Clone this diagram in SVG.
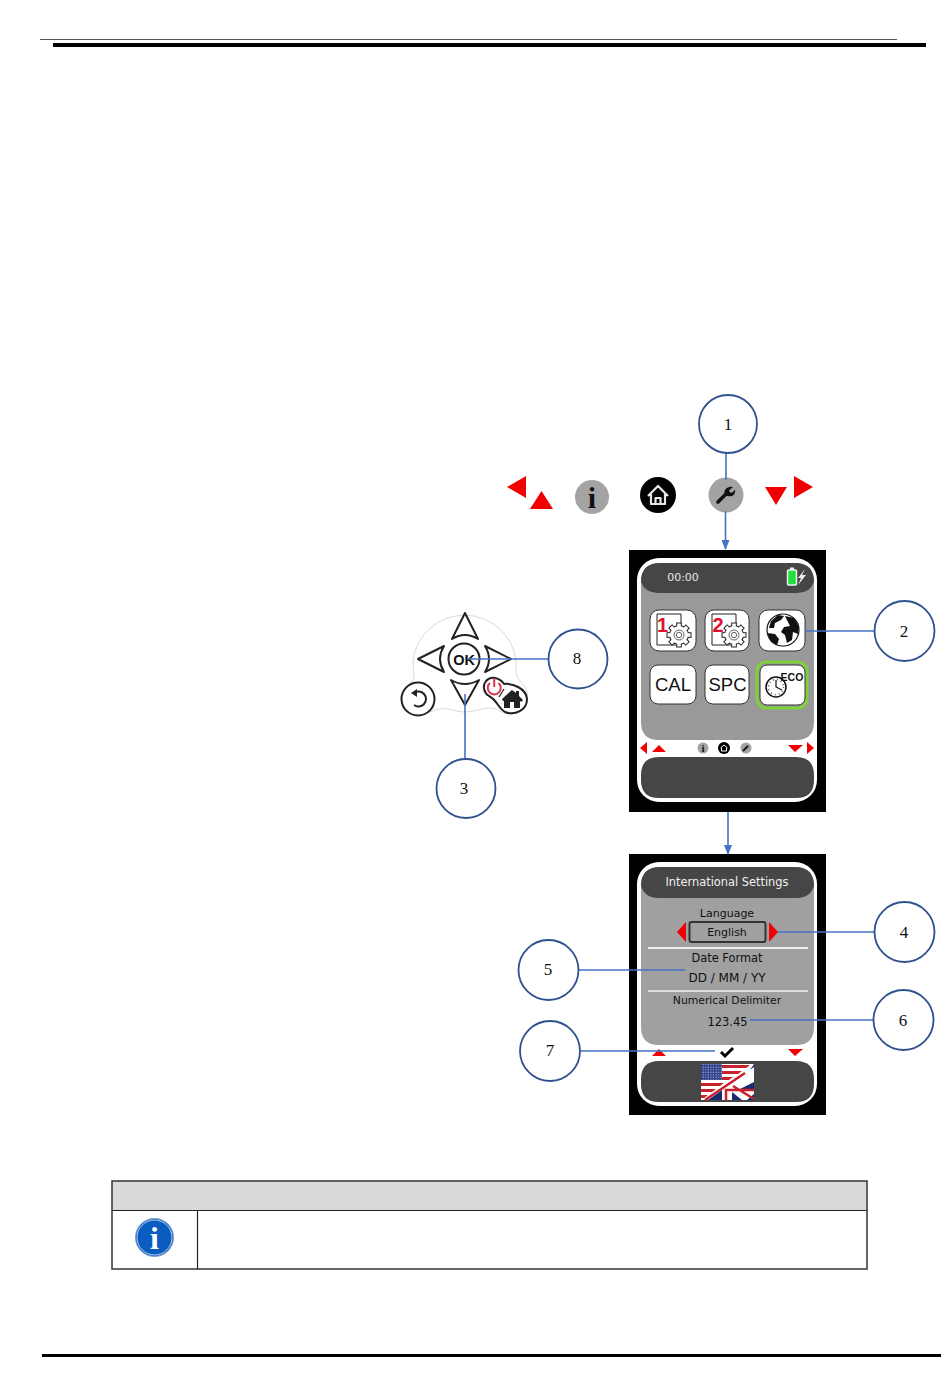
<svg xmlns="http://www.w3.org/2000/svg" xmlns:xlink="http://www.w3.org/1999/xlink" width="950" height="1392" viewBox="0 0 950 1392">
<style>
.callout{fill:#fff;stroke:#2f528f;stroke-width:1.8}
.num{font-family:"Liberation Serif",serif;font-size:17px;fill:#111;text-anchor:middle}
.conn{fill:none;stroke:#4472c4;stroke-width:1.6}
.red{fill:#f00000}
.ui{font-family:"DejaVu Sans",sans-serif;font-size:11px;fill:#111;text-anchor:middle}
.tile{fill:#fff;stroke:#333;stroke-width:1}
.big{font-family:"Liberation Sans",sans-serif;font-size:18.500px;fill:#111;text-anchor:middle}
.kp{fill:#fff;stroke:#222;stroke-width:2;stroke-linejoin:round}
</style>
<defs>
<marker id="arrow" markerWidth="10" markerHeight="8" refX="9" refY="4" orient="auto" markerUnits="userSpaceOnUse"><path d="M0 0L10 4L0 8Z" fill="#4472c4"/></marker>
<pattern id="stars" width="2.600" height="2.600" patternUnits="userSpaceOnUse"><rect width="2.600" height="2.600" fill="#2a3a88"/><rect x="0.500" y="0.500" width="1.100" height="1.100" fill="#cfd6ea"/></pattern>
<path id="teeth-o" d="M-2.800-12.500H2.800V-7H-2.800Z"/>
<path id="teeth-i" d="M-1.800-11.500H1.800V-7H-1.800Z"/>
<g id="gear">
<g fill="#222">
<use xlink:href="#teeth-o" href="#teeth-o"/>
<use xlink:href="#teeth-o" href="#teeth-o" transform="rotate(45)"/>
<use xlink:href="#teeth-o" href="#teeth-o" transform="rotate(90)"/>
<use xlink:href="#teeth-o" href="#teeth-o" transform="rotate(135)"/>
<use xlink:href="#teeth-o" href="#teeth-o" transform="rotate(180)"/>
<use xlink:href="#teeth-o" href="#teeth-o" transform="rotate(225)"/>
<use xlink:href="#teeth-o" href="#teeth-o" transform="rotate(270)"/>
<use xlink:href="#teeth-o" href="#teeth-o" transform="rotate(315)"/>
<circle r="10"/>
</g>
<g fill="#fff">
<use xlink:href="#teeth-i" href="#teeth-i"/>
<use xlink:href="#teeth-i" href="#teeth-i" transform="rotate(45)"/>
<use xlink:href="#teeth-i" href="#teeth-i" transform="rotate(90)"/>
<use xlink:href="#teeth-i" href="#teeth-i" transform="rotate(135)"/>
<use xlink:href="#teeth-i" href="#teeth-i" transform="rotate(180)"/>
<use xlink:href="#teeth-i" href="#teeth-i" transform="rotate(225)"/>
<use xlink:href="#teeth-i" href="#teeth-i" transform="rotate(270)"/>
<use xlink:href="#teeth-i" href="#teeth-i" transform="rotate(315)"/>
<circle r="9"/>
</g>
<circle r="5" fill="none" stroke="#666" stroke-width="1"/>
<circle r="2.700" fill="none" stroke="#666" stroke-width="1"/>
</g>
<g id="wrench">
<path d="M-7 7L1-1" stroke="#111" stroke-width="3.600" stroke-linecap="round"/>
<path d="M0 0C-2-5 2-9 8-8L4-4.500L5-2.500L7.500-2.500L10-5.500C11 1 5 3 0 0Z" fill="#111"/>
</g>
<g id="house">
<path d="M-10 1L0-9L10 1M-7-1V9H7V-1M-2.500 9V3H2.500V9" fill="none" stroke="#e8e8e8" stroke-width="2.200" stroke-linejoin="round"/>
</g>
</defs>
<rect width="950" height="1392" fill="#fff"/>
<g id="page-rules">
<rect x="40" y="39" width="857" height="1" fill="#555"/>
<rect x="53" y="43" width="873" height="4" fill="#000"/>
<rect x="42" y="1354" width="899" height="3" fill="#000"/>
</g>

<g id="icon-row">
<path class="red" d="M507 487L526 476V498ZM530 509H553L541.500 491ZM765 487H787L776 505ZM794 476L813 487L794 498Z"/>
<circle cx="592" cy="497" r="17" fill="#a3a3a3"/>
<text x="592" y="508" font-family="Liberation Serif,serif" font-weight="700" font-size="30" text-anchor="middle" fill="#111">i</text>
<circle cx="658" cy="495" r="18" fill="#000"/>
<use xlink:href="#house" href="#house" x="658" y="495"/>
<circle cx="726" cy="495" r="17.500" fill="#a3a3a3"/>
<use xlink:href="#wrench" href="#wrench" x="725" y="495"/>
</g>

<g id="screen-main">
<rect x="629" y="550" width="197" height="262" fill="#000"/>
<rect x="637" y="558" width="180" height="244" rx="22" fill="#fff"/>
<path d="M641 582Q641 563 660 563H795Q814 563 814 582V722Q814 740 796 740H659Q641 740 641 722Z" fill="#999"/>
<path d="M641 582Q641 563 660 563H795Q814 563 814 582Q810 593 797 593H658Q645 593 641 582Z" fill="#464646"/>
<text x="683" y="581" font-family="DejaVu Sans,sans-serif" font-size="11" fill="#e6e6e6" text-anchor="middle">00:00</text>
<rect x="787.500" y="570" width="9" height="15" rx="1" fill="#22e040" stroke="#eee" stroke-width="1.500"/>
<rect x="790" y="567.500" width="4" height="2.500" fill="#eee"/>
<path d="M805 569L798 578H801L798 585L806 575H802Z" fill="#eee"/>
<g id="tile-1">
<rect class="tile" x="650" y="610" width="46" height="41" rx="9"/>
<path d="M657 614V645H676M657 614H681V624" fill="none" stroke="#222"/>
<use xlink:href="#gear" href="#gear" x="679" y="635"/>
<text x="662.500" y="632" font-family="Liberation Sans,sans-serif" font-weight="700" font-size="20" fill="#e0102c" text-anchor="middle">1</text>
</g>
<g id="tile-2">
<rect class="tile" x="705" y="610" width="44" height="41" rx="9"/>
<path d="M712 614V645H731M712 614H736V624" fill="none" stroke="#222"/>
<use xlink:href="#gear" href="#gear" x="734" y="635"/>
<text x="718" y="632" font-family="Liberation Sans,sans-serif" font-weight="700" font-size="20" fill="#e0102c" text-anchor="middle">2</text>
</g>
<g id="tile-globe">
<rect class="tile" x="759" y="610" width="46" height="41" rx="9"/>
<circle cx="783" cy="630" r="16" fill="#fff" stroke="#111" stroke-width="1.200"/>
<path d="M771 621L778 615L784 616L781 620L775 623L774 628L769 628ZM785 616L794 618L799 627L798 634L793 632L792 640L787 643L785 635L781 632L784 627L790 626ZM767 633L775 634L779 639L777 645L771 642Z" fill="#111"/>
</g>
<g id="tile-cal">
<rect class="tile" x="650" y="665" width="46" height="39" rx="8"/>
<text class="big" x="673" y="691">CAL</text>
</g>
<g id="tile-spc">
<rect class="tile" x="705" y="665" width="44" height="39" rx="8"/>
<text class="big" x="727.500" y="691">SPC</text>
</g>
<g id="tile-eco">
<rect x="757" y="662" width="50" height="46" rx="9" fill="none" stroke="#7ed13a" stroke-width="3"/>
<rect class="tile" x="760" y="665" width="45" height="40" rx="7"/>
<circle cx="776" cy="687" r="10" fill="#fff" stroke="#111" stroke-width="1.500"/>
<circle cx="776" cy="687" r="7.500" fill="none" stroke="#555" stroke-width="1.500" stroke-dasharray="1 3"/>
<path d="M776 680V687L782 690" fill="none" stroke="#111" stroke-width="1.200"/>
<text x="792" y="681" font-family="Liberation Sans,sans-serif" font-weight="700" font-size="10.500" fill="#111" text-anchor="middle">ECO</text>
</g>
<path class="red" d="M640 748L647 742V754ZM652 752H666L659 745ZM788 745H803L795 752ZM807 742L814 748L807 754Z"/>
<circle cx="703" cy="748" r="5.500" fill="#a3a3a3"/>
<text x="703" y="752" font-family="Liberation Serif,serif" font-weight="700" font-size="11" text-anchor="middle" fill="#111">i</text>
<circle cx="724" cy="748" r="6" fill="#000"/>
<path d="M720.500 748L724 745L727.500 748M721.500 748V751H726.500V748" fill="none" stroke="#fff" stroke-width="1"/>
<circle cx="746" cy="748" r="5.500" fill="#a3a3a3"/>
<path d="M743 751L748 746" stroke="#111" stroke-width="1.800"/>
<path d="M641 775Q641 757 659 757H796Q814 757 814 775V780Q814 798 796 798H659Q641 798 641 780Z" fill="#464646"/>
</g>

<g id="screen-settings">
<rect x="629" y="854" width="197" height="261" fill="#000"/>
<rect x="637" y="862" width="180" height="244" rx="22" fill="#fff"/>
<path d="M641 886Q641 867 660 867H795Q814 867 814 886V1027Q814 1045 796 1045H659Q641 1045 641 1027Z" fill="#a0a0a0"/>
<path d="M641 886Q641 867 660 867H795Q814 867 814 886Q810 898 797 898H658Q645 898 641 886Z" fill="#464646"/>
<text class="ui" x="727" y="886" style="fill:#f0f0f0;font-size:11.400px">International Settings</text>
<text class="ui" x="727" y="917">Language</text>
<rect x="689.500" y="922" width="76" height="20" rx="2" fill="#a0a0a0" stroke="#333" stroke-width="2"/>
<text class="ui" x="727" y="936">English</text>
<path class="red" d="M677 932L686 922V942ZM778 932L769 922V942Z"/>
<rect x="648" y="947" width="160" height="2" fill="#eee"/>
<text class="ui" x="727" y="962" style="font-size:11.400px">Date Format</text>
<text class="ui" x="727" y="982" style="font-size:12px">DD / MM / YY</text>
<rect x="648" y="990" width="160" height="2" fill="#ddd"/>
<text class="ui" x="727" y="1004" style="font-size:10.800px">Numerical Delimiter</text>
<text class="ui" x="727.500" y="1026" style="font-size:11.500px">123.45</text>
<path class="red" d="M652 1056H666L659 1049ZM788 1049H803L795 1056Z"/>
<path d="M721 1052L725 1056L733 1048" fill="none" stroke="#000" stroke-width="3"/>
<path d="M641 1079Q641 1061 659 1061H796Q814 1061 814 1079V1084Q814 1102 796 1102H659Q641 1102 641 1084Z" fill="#464646"/>
<g id="flag">
<rect x="701" y="1064" width="53" height="36" fill="#fff"/>
<path fill="#c8202c" d="M722 1065H750L746 1068H722ZM722 1071H742L738 1074H722ZM722 1077H733L729 1080H722ZM701 1083H724L720 1086H701ZM701 1089H716L712 1092H701ZM701 1095H708L704 1098H701Z"/>
<rect x="701" y="1064" width="21" height="16" fill="url(#stars)"/>
<path fill="#1c2a72" d="M708 1100L722 1090V1100ZM732 1100V1092L742 1100ZM740 1089L754 1082V1089ZM747 1100L754 1094V1100ZM754 1064V1067L750 1070Z"/>
<path d="M726 1100V1090H754M705 1100L745 1073M754 1099L733 1086" fill="none" stroke="#c8202c" stroke-width="2.500"/>
</g>
</g>

<g id="keypad">
<path d="M413 660A52 52 0 0 1 516 660C516 670 515 676 521 682C533 694 528 712 512 714C503 715 498 708 490 708C480 708 474 712 465 712C455 712 447 706 435 710C422 717 402 712 401 698C401 690 408 684 414 680C414 674 413 667 413 660Z" fill="#fff" stroke="#d9d9d9" stroke-width="1"/>
<path class="kp" d="M465 613L452 639Q465 631 478 639Z"/>
<path class="kp" d="M418 659L444 646Q436 659 444 672Z"/>
<path class="kp" d="M511 659L485 646Q493 659 485 672Z"/>
<path class="kp" d="M465 705L451 680Q465 688 479 680Z"/>
<circle class="kp" cx="464" cy="659" r="15.500" stroke-width="2.500"/>
<text x="464" y="665" font-family="Liberation Sans,sans-serif" font-weight="700" font-size="14.500" fill="#111" text-anchor="middle">OK</text>
<circle class="kp" cx="418" cy="699" r="16.500" stroke-width="2.500"/>
<path d="M414 693A7.500 7.500 0 1 1 414 705" fill="none" stroke="#222" stroke-width="2"/>
<path d="M417 689L411 693L417 697Z" fill="#222"/>
<path class="kp" stroke-width="2.500" d="M486 681C491 675 500 678 504 684C512 683 526 688 527 699C527 710 515 716 505 712C498 708 497 700 489 696C484 693 482 686 486 681Z"/>
<path d="M490 683A6.500 6.500 0 1 0 498.500 683" fill="none" stroke="#e03050" stroke-width="2"/>
<path d="M494.200 678V687" stroke="#e03050" stroke-width="2"/>
<path d="M499 697L504 689" stroke="#222" stroke-width="1.300"/>
<path d="M502 699L512 690L516 693V691H519V696L523 700L521 702L520 701V708H514V702H510V708H504V701L503 701Z" fill="#222"/>
</g>

<g id="connectors">
<path class="conn" d="M726 453V480"/>
<path class="conn" d="M725.500 511V549" marker-end="url(#arrow)"/>
<path class="conn" d="M728 812V854" stroke-width="2" marker-end="url(#arrow)"/>
<path class="conn" d="M805 631H875"/>
<path class="conn" d="M465 694V758"/>
<path class="conn" d="M548 659H467"/>
<path class="conn" d="M778 932H875"/>
<path class="conn" d="M579 970H685"/>
<path class="conn" d="M750 1020H874"/>
<path class="conn" d="M581 1051H715"/>
</g>

<g id="callout-1"><circle class="callout" cx="728" cy="424" r="29"/><text class="num" x="728" y="430">1</text></g>
<g id="callout-2"><circle class="callout" cx="904.500" cy="631" r="30"/><text class="num" x="904" y="637">2</text></g>
<g id="callout-3"><circle class="callout" cx="466" cy="788.500" r="29.500"/><text class="num" x="464" y="794">3</text></g>
<g id="callout-4"><circle class="callout" cx="904.500" cy="932" r="30"/><text class="num" x="904" y="938">4</text></g>
<g id="callout-5"><circle class="callout" cx="548.500" cy="970" r="30"/><text class="num" x="548" y="975">5</text></g>
<g id="callout-6"><circle class="callout" cx="903.500" cy="1020" r="30"/><text class="num" x="903" y="1026">6</text></g>
<g id="callout-7"><circle class="callout" cx="550" cy="1051" r="30"/><text class="num" x="550" y="1056">7</text></g>
<g id="callout-8"><circle class="callout" cx="578" cy="659" r="29.500"/><text class="num" x="577" y="664">8</text></g>

<g id="note-table">
<rect x="112" y="1181" width="755" height="29" fill="#d9d9d9"/>
<rect x="112" y="1181" width="755" height="88" fill="none" stroke="#333" stroke-width="1.500"/>
<path d="M112 1210.500H867M197.500 1210.500V1269" stroke="#222" stroke-width="1.200"/>
<circle cx="154.500" cy="1237.500" r="19" fill="#0b5cc0" stroke="#7a9ccf" stroke-width="1"/>
<circle cx="154.500" cy="1237.500" r="17.500" fill="none" stroke="#dfe8f5" stroke-width="0.800"/>
<text x="154.500" y="1249" font-family="Liberation Serif,serif" font-weight="700" font-size="32" text-anchor="middle" fill="#fff">i</text>
</g>
</svg>
